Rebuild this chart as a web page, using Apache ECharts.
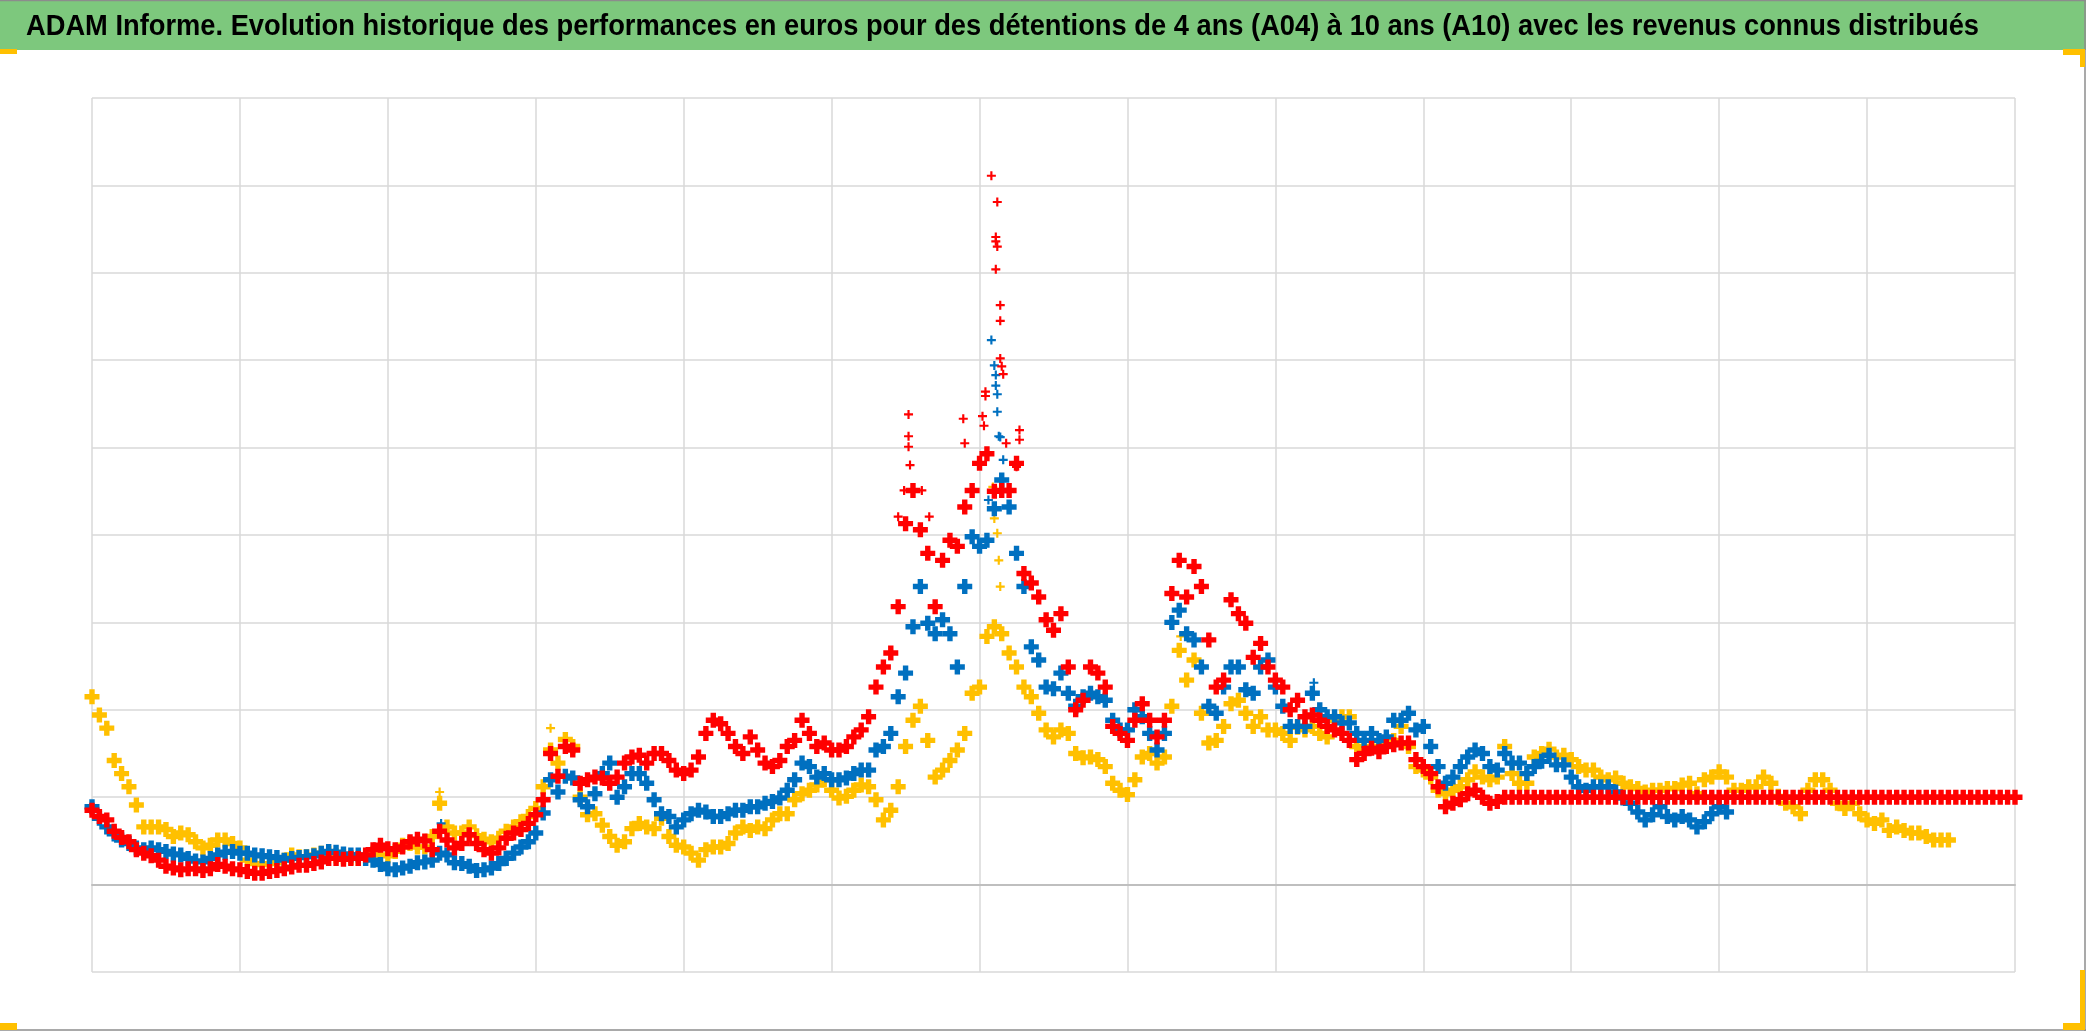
<!DOCTYPE html>
<html>
<head>
<meta charset="utf-8">
<script src="https://cdn.jsdelivr.net/npm/echarts@6/dist/echarts.min.js"></script>
<style>
html,body{margin:0;padding:0;background:#fff;}
#chart{width:2086px;height:1031px;}
</style>
</head>
<body>
<div id="chart"></div>
<script>
const TITLE = 'ADAM Informe. Evolution historique des performances en euros pour des détentions de 4 ans (A04) à 10 ans (A10) avec les revenus connus distribués';
const SERIES_NAMES = ['A04', 'A07', 'A10'];
const X_STEP = 0.05;

const yellowY = [
2.15,1.94,1.79,1.42,1.27,1.12,0.91,0.66,0.66,0.66,
0.63,0.55,0.59,0.57,0.49,0.42,0.45,0.51,0.51,0.47,
0.42,0.28,0.24,0.23,0.24,0.25,0.28,0.34,0.32,0.32,
0.34,0.36,0.36,0.33,0.32,0.31,0.30,0.33,0.36,0.34,
0.33,0.38,0.45,0.47,0.43,0.43,0.55,0.93,0.66,0.59,
0.59,0.66,0.56,0.52,0.49,0.53,0.61,0.66,0.72,0.78,
0.87,1.12,1.54,1.39,1.66,1.58,1.00,0.80,0.81,0.68,
0.55,0.45,0.49,0.64,0.70,0.66,0.64,0.76,0.55,0.45,
0.43,0.36,0.28,0.40,0.43,0.43,0.47,0.59,0.66,0.62,
0.66,0.64,0.74,0.81,0.81,0.97,1.04,1.08,1.14,1.20,
1.08,0.99,1.01,1.08,1.14,1.12,0.97,0.74,0.85,1.12,
1.58,1.88,2.04,1.65,1.23,1.31,1.42,1.54,1.73,2.19,
2.26,2.84,2.95,2.87,2.65,2.49,2.26,2.15,1.96,1.77,
1.69,1.77,1.73,1.50,1.45,1.46,1.43,1.35,1.16,1.08,
1.03,1.20,1.46,1.50,1.39,1.46,2.04,2.68,2.34,2.57,
1.96,1.62,1.65,1.81,2.07,2.11,1.96,1.81,1.92,1.77,
1.77,1.73,1.65,1.80,1.77,1.81,1.73,1.69,1.88,1.92,
1.92,1.58,1.54,1.58,1.58,1.62,1.65,1.81,1.58,1.35,
1.31,1.23,1.08,1.04,1.08,1.12,1.20,1.29,1.23,1.20,
1.23,1.58,1.27,1.16,1.16,1.46,1.50,1.55,1.46,1.48,
1.43,1.35,1.31,1.31,1.23,1.20,1.22,1.16,1.12,1.10,
1.06,1.08,1.08,1.10,1.10,1.14,1.16,1.04,1.20,1.23,
1.29,1.23,1.08,1.08,1.12,1.12,1.23,1.16,1.01,0.93,
0.89,0.81,1.08,1.20,1.20,1.08,0.93,0.87,0.93,0.81,
0.74,0.70,0.74,0.62,0.66,0.62,0.59,0.59,0.55,0.51,
0.51,0.51,null,null,null,null,null,null,null,null,
null
];

const blueY = [
0.89,0.76,0.66,0.58,0.51,0.47,0.42,0.40,0.42,0.40,
0.38,0.35,0.34,0.30,0.27,0.26,0.30,0.34,0.37,0.38,
0.36,0.36,0.34,0.33,0.32,0.31,0.28,0.30,0.31,0.32,
0.33,0.36,0.38,0.37,0.35,0.34,0.34,0.30,0.28,0.23,
0.18,0.17,0.19,0.21,0.25,0.26,0.28,0.36,0.34,0.25,
0.24,0.21,0.16,0.17,0.19,0.24,0.30,0.36,0.43,0.49,
0.59,0.82,1.20,1.06,1.24,1.22,0.97,0.89,1.04,1.27,
1.39,1.00,1.12,1.27,1.27,1.16,0.97,0.81,0.78,0.66,
0.74,0.81,0.85,0.83,0.78,0.78,0.81,0.85,0.85,0.89,
0.89,0.93,0.95,0.99,1.08,1.20,1.39,1.35,1.23,1.27,
1.20,1.20,1.22,1.27,1.31,1.31,1.54,1.58,1.73,2.15,
2.42,2.95,3.41,2.99,2.87,3.03,2.87,2.49,3.41,3.98,
3.87,3.94,4.30,4.63,4.32,3.79,3.41,2.72,2.57,2.26,
2.24,2.42,2.19,2.04,2.15,2.19,2.15,2.11,1.88,1.77,
1.77,2.00,1.92,1.73,1.54,1.73,3.00,3.14,2.87,2.80,
2.49,2.04,1.96,2.26,2.49,2.49,2.23,2.19,2.49,2.57,
2.26,2.04,1.81,1.81,1.81,2.19,2.00,1.92,1.92,1.85,
1.85,1.73,1.65,1.73,1.65,1.69,1.88,1.88,1.96,1.77,
1.81,1.58,1.35,1.16,1.23,1.35,1.46,1.54,1.50,1.35,
1.31,1.50,1.39,1.39,1.27,1.35,1.41,1.48,1.37,1.37,
1.23,1.12,1.08,1.12,1.12,1.12,1.06,0.99,0.93,0.83,
0.74,0.80,0.89,0.78,0.74,0.78,0.74,0.66,0.72,0.81,
0.89,0.83,null,null,null,null,null,null,null,null,
null,null,null,null,null,null,null,null,null,null,
null,null,null,null,null,null,null,null,null,null,
null,null,null,null,null,null,null,null,null,null,
null
];

const redY = [
0.85,0.78,0.74,0.61,0.54,0.49,0.40,0.36,0.33,0.28,
0.21,0.19,0.17,0.18,0.18,0.16,0.18,0.23,0.21,0.18,
0.17,0.15,0.13,0.13,0.15,0.16,0.18,0.20,0.22,0.22,
0.24,0.26,0.30,0.30,0.29,0.30,0.30,0.34,0.40,0.45,
0.41,0.40,0.43,0.49,0.52,0.50,0.40,0.61,0.51,0.42,
0.47,0.57,0.47,0.40,0.36,0.42,0.53,0.59,0.63,0.70,
0.80,0.97,1.50,1.24,1.58,1.54,1.16,1.20,1.23,1.22,
1.16,1.23,1.39,1.46,1.48,1.39,1.50,1.50,1.42,1.31,
1.27,1.31,1.46,1.73,1.88,1.84,1.73,1.58,1.50,1.69,
1.54,1.39,1.35,1.42,1.58,1.65,1.88,1.73,1.58,1.62,
1.54,1.54,1.58,1.69,1.77,1.92,2.26,2.49,2.65,3.18,
4.13,4.51,4.06,3.79,3.18,3.71,3.94,3.87,4.32,4.51,
4.82,4.93,4.50,4.51,4.51,4.82,3.56,3.45,3.29,3.03,
2.91,3.10,2.49,2.00,2.11,2.49,2.42,2.26,1.81,1.73,
1.65,1.88,2.07,1.88,1.69,1.88,3.33,3.71,3.29,3.64,
3.41,2.80,2.26,2.34,3.26,3.10,2.99,2.60,2.76,2.49,
2.34,2.26,2.00,2.11,1.92,1.94,1.88,1.81,1.77,1.73,
1.65,1.43,1.50,1.56,1.52,1.58,1.60,1.62,1.62,1.43,
1.35,1.27,1.12,0.89,0.93,0.97,1.04,1.08,1.00,0.93,
0.95,1.00,1.00,1.00,1.00,1.00,1.00,1.00,1.00,1.00,
1.00,1.00,1.00,1.00,1.00,1.00,1.00,1.00,1.00,1.00,
1.00,1.00,1.00,1.00,1.00,1.00,1.00,1.00,1.00,1.00,
1.00,1.00,1.00,1.00,1.00,1.00,1.00,1.00,1.00,1.00,
1.00,1.00,1.00,1.00,1.00,1.00,1.00,1.00,1.00,1.00,
1.00,1.00,1.00,1.00,1.00,1.00,1.00,1.00,1.00,1.00,
1.00,1.00,1.00,1.00,1.00,1.00,1.00,1.00,1.00,1.00,
1.00
];

// isolated spike points (x, y)
const yellowSpikes = [[6.09,4.55],[6.10,4.19],[6.12,4.02],[6.13,3.71],[6.14,3.41],[7.36,2.84],[2.35,1.06],[3.10,1.79]];
const blueSpikes = [[6.08,6.23],[6.10,5.94],[6.11,5.83],[6.11,5.71],[6.12,5.61],[6.12,5.41],[6.13,5.13],[6.14,5.12],[6.16,4.86],[6.06,4.40],[2.36,0.70],[8.26,2.31]];
const redSpikes = [[5.52,5.38],[5.52,5.13],[5.52,5.01],[5.53,4.80],[5.89,5.33],[5.90,5.05],[6.02,5.36],[6.03,5.25],[6.04,5.64],[6.04,5.59],[6.08,8.11],[6.12,7.81],[6.11,7.41],[6.11,7.36],[6.12,7.30],[6.11,7.04],[6.14,6.63],[6.14,6.45],[6.14,6.02],[6.15,5.93],[6.16,5.84],[6.18,5.05],[6.27,5.20],[6.27,5.09],[5.61,4.51],[5.49,4.51],[5.45,4.21],[5.66,4.21],[6.25,4.78]];

const X_MIN = 0, X_MAX = 13, X_INT = 1;
const Y_MIN = -1, Y_MAX = 9, Y_INT = 1;

const COLORS = {yellow:'#FFC000', blue:'#0070C0', red:'#FF0000'};
const PLUS_BOLD = 'path://M3.2,0H6.8V3.2H10V6.8H6.8V10H3.2V6.8H0V3.2H3.2Z';
const PLUS = 'path://M3.8,0H6.2V3.8H10V6.2H6.2V10H3.8V6.2H0V3.8H3.8Z';

function toPts(arr){
  const out = [];
  arr.forEach((v,i)=>{ if(v!==null) out.push([+(i*X_STEP).toFixed(2), v]); });
  return out;
}

const chart = echarts.init(document.getElementById('chart'), null, {renderer:'canvas'});

// measure title to fit the reference's width
const TITLE_FONT = 'bold 30px "Liberation Sans Narrow", "Liberation Sans", Arial, sans-serif';
const cv = document.createElement('canvas').getContext('2d');
cv.font = TITLE_FONT;
const tw = cv.measureText(TITLE).width;
const titleScale = 1953 / tw;

function scatter(name, data, color, size, sym){
  return {
    name: name, type:'scatter', data: data, symbol: sym, symbolSize: size,
    itemStyle:{color: color, opacity:1}, silent:true, animation:false
  };
}

chart.setOption({
  animation:false,
  backgroundColor:'#ffffff',
  grid:{left:92, right:71, top:98, bottom:59, containLabel:false},
  xAxis:{
    type:'value', min:X_MIN, max:X_MAX, interval:X_INT,
    axisLabel:{show:false}, axisTick:{show:false},
    axisLine:{show:true, onZero:true, lineStyle:{color:'#bfbfbf', width:2}},
    splitLine:{show:true, lineStyle:{color:'#d9d9d9', width:1.5}}
  },
  yAxis:{
    type:'value', min:Y_MIN, max:Y_MAX, interval:Y_INT,
    axisLabel:{show:false}, axisTick:{show:false},
    axisLine:{show:false},
    splitLine:{show:true, lineStyle:{color:'#d9d9d9', width:1.5}}
  },
  series:[
    scatter(SERIES_NAMES[0], toPts(yellowY), COLORS.yellow, 15, PLUS_BOLD),
    scatter(SERIES_NAMES[0]+' pics', yellowSpikes, COLORS.yellow, 9, PLUS),
    scatter(SERIES_NAMES[1], toPts(blueY), COLORS.blue, 15, PLUS_BOLD),
    scatter(SERIES_NAMES[1]+' pics', blueSpikes, COLORS.blue, 9, PLUS),
    scatter(SERIES_NAMES[2], toPts(redY), COLORS.red, 15, PLUS_BOLD),
    scatter(SERIES_NAMES[2]+' pics', redSpikes, COLORS.red, 9, PLUS)
  ],
  graphic:[
    {type:'rect', shape:{x:0,y:0,width:2086,height:50}, style:{fill:'#7dc87d'}, silent:true, z:0},
    {type:'line', shape:{x1:0,y1:0.5,x2:2086,y2:0.5}, style:{stroke:'#8c8c8c', lineWidth:1.5}, silent:true},
    {type:'line', shape:{x1:2085,y1:0,x2:2085,y2:1031}, style:{stroke:'#8c8c8c', lineWidth:1.5}, silent:true},
    {type:'line', shape:{x1:0,y1:1030,x2:2086,y2:1030}, style:{stroke:'#8c8c8c', lineWidth:1.5}, silent:true},
    {type:'rect', shape:{x:0,y:49,width:17,height:5}, style:{fill:'#FFC000'}, silent:true},
    {type:'rect', shape:{x:2063,y:49,width:22,height:6}, style:{fill:'#FFC000'}, silent:true},
    {type:'rect', shape:{x:2080,y:49,width:5,height:18}, style:{fill:'#FFC000'}, silent:true},
    {type:'rect', shape:{x:0,y:1023,width:17,height:7}, style:{fill:'#FFC000'}, silent:true},
    {type:'rect', shape:{x:2063,y:1023,width:22,height:7}, style:{fill:'#FFC000'}, silent:true},
    {type:'rect', shape:{x:2080,y:970,width:5,height:60}, style:{fill:'#FFC000'}, silent:true},
    {type:'text', x:26, y:27, scaleX:titleScale, scaleY:1, silent:true,
     style:{text:TITLE, font:TITLE_FONT, fill:'#000000', align:'left', verticalAlign:'middle'}}
  ]
});
</script>
</body>
</html>
